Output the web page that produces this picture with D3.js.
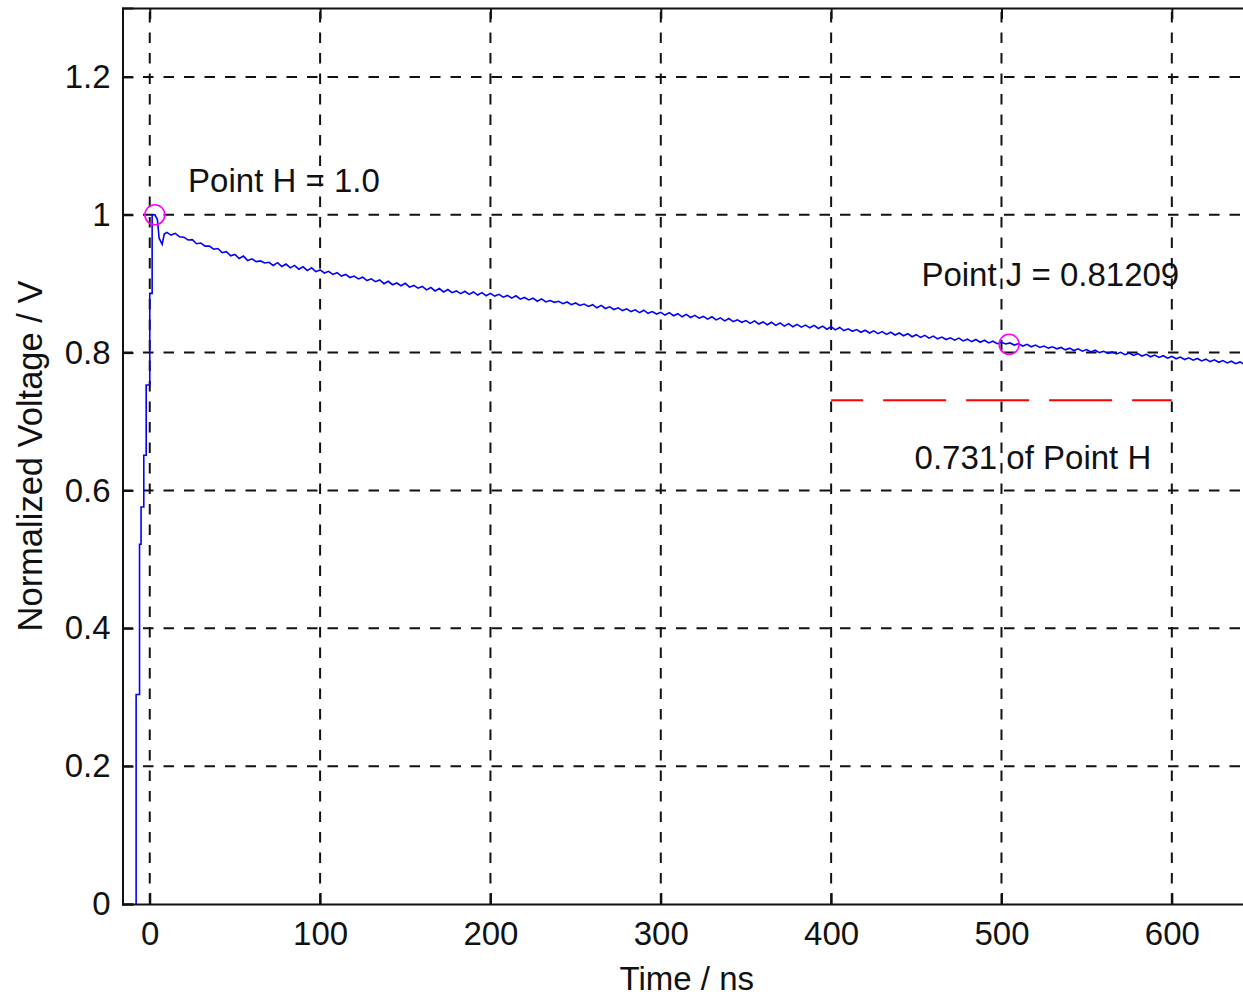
<!DOCTYPE html>
<html>
<head>
<meta charset="utf-8">
<script src="https://cdn.jsdelivr.net/npm/d3@7"></script>
<style>
  html, body { margin: 0; padding: 0; background: #fff; overflow: hidden; }
  svg { display: block; }
  text { font-family: "Liberation Sans", Arial, sans-serif; fill: #111; }
</style>
</head>
<body>
<svg id="chart" width="1243" height="995"></svg>
<script>
// Axis ranges and tick labels
const xDomain = [-16, 650];
const yDomain = [0, 1.3];
const xTicks = [0, 100, 200, 300, 400, 500, 600];
const yTicks = [0, 0.2, 0.4, 0.6, 0.8, 1, 1.2];
const yTickLabels = ["0", "0.2", "0.4", "0.6", "0.8", "1", "1.2"];

// Rising edge of the pulse (time in ns, normalized voltage)
const riseTime = [-8, -8, -6, -6, -5.1, -5.1, -3.5, -3.5, -2.1, -2.1, 0, 0, 1.4, 1.4, 3, 4.5, 5.5, 7.3, 8.5];
const riseVolt = [0, 0.304, 0.304, 0.522, 0.522, 0.576, 0.576, 0.651, 0.651, 0.753, 0.753, 0.886, 0.886, 1.0, 1.0, 0.993, 0.966, 0.957, 0.972];

// Decay tail of the pulse (sampled every 2.5 ns, noisy)
const decayTime = [10, 12.5, 15, 17.5, 20, 22.5, 25, 27.5, 30, 32.5, 35, 37.5, 40, 42.5, 45, 47.5, 50, 52.5, 55, 57.5,
  60, 62.5, 65, 67.5, 70, 72.5, 75, 77.5, 80, 82.5, 85, 87.5, 90, 92.5, 95, 97.5, 100, 102.5, 105, 107.5,
  110, 112.5, 115, 117.5, 120, 122.5, 125, 127.5, 130, 132.5, 135, 137.5, 140, 142.5, 145, 147.5, 150, 152.5, 155, 157.5,
  160, 162.5, 165, 167.5, 170, 172.5, 175, 177.5, 180, 182.5, 185, 187.5, 190, 192.5, 195, 197.5, 200, 202.5, 205, 207.5,
  210, 212.5, 215, 217.5, 220, 222.5, 225, 227.5, 230, 232.5, 235, 237.5, 240, 242.5, 245, 247.5, 250, 252.5, 255, 257.5,
  260, 262.5, 265, 267.5, 270, 272.5, 275, 277.5, 280, 282.5, 285, 287.5, 290, 292.5, 295, 297.5, 300, 302.5, 305, 307.5,
  310, 312.5, 315, 317.5, 320, 322.5, 325, 327.5, 330, 332.5, 335, 337.5, 340, 342.5, 345, 347.5, 350, 352.5, 355, 357.5,
  360, 362.5, 365, 367.5, 370, 372.5, 375, 377.5, 380, 382.5, 385, 387.5, 390, 392.5, 395, 397.5, 400, 402.5, 405, 407.5,
  410, 412.5, 415, 417.5, 420, 422.5, 425, 427.5, 430, 432.5, 435, 437.5, 440, 442.5, 445, 447.5, 450, 452.5, 455, 457.5,
  460, 462.5, 465, 467.5, 470, 472.5, 475, 477.5, 480, 482.5, 485, 487.5, 490, 492.5, 495, 497.5, 500, 502.5, 505, 507.5,
  510, 512.5, 515, 517.5, 520, 522.5, 525, 527.5, 530, 532.5, 535, 537.5, 540, 542.5, 545, 547.5, 550, 552.5, 555, 557.5,
  560, 562.5, 565, 567.5, 570, 572.5, 575, 577.5, 580, 582.5, 585, 587.5, 590, 592.5, 595, 597.5, 600, 602.5, 605, 607.5,
  610, 612.5, 615, 617.5, 620, 622.5, 625, 627.5, 630, 632.5, 635, 637.5, 640, 642.5, 645, 647.5, 650];
const decayVolt = [0.9745, 0.9705, 0.9730, 0.9680, 0.9675, 0.9635, 0.9640, 0.9580, 0.9590, 0.9545, 0.9545, 0.9500, 0.9510, 0.9450, 0.9465, 0.9405, 0.9425, 0.9365, 0.9400, 0.9335,
  0.9360, 0.9320, 0.9330, 0.9300, 0.9310, 0.9265, 0.9305, 0.9250, 0.9285, 0.9230, 0.9265, 0.9210, 0.9245, 0.9190, 0.9230, 0.9175, 0.9200, 0.9155, 0.9180, 0.9135,
  0.9160, 0.9110, 0.9135, 0.9090, 0.9110, 0.9070, 0.9095, 0.9045, 0.9070, 0.9030, 0.9055, 0.9000, 0.9035, 0.8985, 0.9010, 0.8970, 0.9005, 0.8950, 0.8975, 0.8935,
  0.8960, 0.8910, 0.8945, 0.8895, 0.8930, 0.8880, 0.8915, 0.8870, 0.8895, 0.8855, 0.8890, 0.8845, 0.8880, 0.8835, 0.8870, 0.8825, 0.8860, 0.8820, 0.8845, 0.8805,
  0.8830, 0.8790, 0.8825, 0.8775, 0.8800, 0.8765, 0.8790, 0.8745, 0.8780, 0.8735, 0.8755, 0.8730, 0.8745, 0.8710, 0.8735, 0.8695, 0.8720, 0.8685, 0.8705, 0.8670,
  0.8695, 0.8650, 0.8685, 0.8640, 0.8665, 0.8625, 0.8650, 0.8610, 0.8635, 0.8595, 0.8620, 0.8580, 0.8615, 0.8570, 0.8595, 0.8560, 0.8585, 0.8545, 0.8580, 0.8535,
  0.8565, 0.8520, 0.8555, 0.8510, 0.8540, 0.8500, 0.8525, 0.8485, 0.8520, 0.8475, 0.8505, 0.8460, 0.8495, 0.8450, 0.8475, 0.8440, 0.8465, 0.8425, 0.8460, 0.8415,
  0.8445, 0.8405, 0.8440, 0.8395, 0.8430, 0.8385, 0.8420, 0.8375, 0.8410, 0.8370, 0.8400, 0.8360, 0.8395, 0.8350, 0.8385, 0.8340, 0.8375, 0.8330, 0.8365, 0.8320,
  0.8345, 0.8310, 0.8335, 0.8295, 0.8325, 0.8285, 0.8315, 0.8275, 0.8305, 0.8265, 0.8295, 0.8255, 0.8285, 0.8245, 0.8275, 0.8230, 0.8260, 0.8220, 0.8250, 0.8210,
  0.8240, 0.8200, 0.8225, 0.8190, 0.8215, 0.8180, 0.8210, 0.8170, 0.8195, 0.8160, 0.8190, 0.8150, 0.8180, 0.8140, 0.8165, 0.8130, 0.8150, 0.8125, 0.8140, 0.8110,
  0.8130, 0.8095, 0.8120, 0.8085, 0.8110, 0.8075, 0.8095, 0.8065, 0.8085, 0.8055, 0.8075, 0.8040, 0.8065, 0.8030, 0.8055, 0.8020, 0.8045, 0.8010, 0.8035, 0.8000,
  0.8020, 0.7990, 0.8010, 0.7980, 0.8005, 0.7970, 0.7995, 0.7960, 0.7985, 0.7950, 0.7975, 0.7940, 0.7965, 0.7930, 0.7955, 0.7920, 0.7945, 0.7910, 0.7935, 0.7900,
  0.7925, 0.7890, 0.7915, 0.7880, 0.7905, 0.7870, 0.7895, 0.7860, 0.7885, 0.7850, 0.7875, 0.7840, 0.7865, 0.7830, 0.7855, 0.7820, 0.7845];

// Marked points and the reference level
const pointH = { t: 3, v: 1.0, label: "Point H = 1.0", labelT: 22.5, labelV: 1.05 };
const pointJ = { t: 504.5, v: 0.81209, label: "Point J = 0.81209", labelT: 453, labelV: 0.913 };
const refLevel = { t0: 400, t1: 600, v: 0.731, label: "0.731 of Point H", labelT: 449, labelV: 0.648 };

const svg = d3.select("#chart");
const plot = { left: 122.5, top: 8, right: 1257, bottom: 904 };

const x = d3.scaleLinear().domain(xDomain).range([plot.left, plot.right]);
const y = d3.scaleLinear().domain(yDomain).range([plot.bottom, plot.top]);

svg.append("defs").append("clipPath").attr("id", "plotClip")
  .append("rect")
  .attr("x", plot.left).attr("y", plot.top)
  .attr("width", plot.right - plot.left).attr("height", plot.bottom - plot.top);

// Dashed grid
const grid = svg.append("g").attr("stroke", "#111").attr("stroke-width", 2)
  .attr("stroke-dasharray", "10.5 10");
grid.selectAll(".vg").data(xTicks).join("line")
  .attr("x1", d => x(d)).attr("x2", d => x(d))
  .attr("y1", plot.bottom).attr("y2", plot.top);
grid.selectAll(".hg").data(yTicks.filter(d => d > 0)).join("line")
  .attr("x1", plot.left).attr("x2", plot.right)
  .attr("y1", d => y(d)).attr("y2", d => y(d));

// Axes: ticks inward, labels outside
const tickLen = 11;
const xAxis = d3.axisBottom(x).tickValues(xTicks).tickSize(-tickLen).tickPadding(18)
  .tickFormat(d3.format("d"));
const gx = svg.append("g").attr("transform", `translate(0,${plot.bottom})`).call(xAxis);
const xTop = d3.axisTop(x).tickValues(xTicks).tickSize(-tickLen).tickFormat("");
const gxt = svg.append("g").attr("transform", `translate(0,${plot.top})`).call(xTop);
const yAxis = d3.axisLeft(y).tickValues(yTicks).tickSize(-tickLen).tickPadding(12)
  .tickFormat((d, i) => yTickLabels[i]);
const gy = svg.append("g").attr("transform", `translate(${plot.left},0)`).call(yAxis);

[gx, gxt, gy].forEach(g => {
  g.select(".domain").attr("stroke", "#111").attr("stroke-width", 2);
  g.selectAll(".tick line").attr("stroke", "#111").attr("stroke-width", 2);
  g.selectAll(".tick text").attr("font-size", 33).attr("fill", "#111")
    .attr("font-family", "'Liberation Sans', Arial, sans-serif");
});
gx.selectAll(".tick text").attr("dy", "0.71em");

// Axis titles
svg.append("text").attr("x", (plot.left + plot.right) / 2 - 3).attr("y", 978)
  .attr("text-anchor", "middle").attr("dominant-baseline", "central")
  .attr("font-size", 33).text("Time / ns");
svg.append("text")
  .attr("transform", `translate(30,${(plot.top + plot.bottom) / 2}) rotate(-90)`)
  .attr("text-anchor", "middle").attr("dominant-baseline", "central")
  .attr("font-size", 34.5).text("Normalized Voltage / V");

// Signal trace
const series = riseTime.map((t, i) => [t, riseVolt[i]])
  .concat(decayTime.map((t, i) => [t, decayVolt[i]]));
const line = d3.line().x(d => x(d[0])).y(d => y(d[1]));
const marks = svg.append("g").attr("clip-path", "url(#plotClip)");
marks.append("path").datum(series)
  .attr("d", line).attr("fill", "none")
  .attr("stroke", "#0000ff").attr("stroke-width", 1.6).attr("stroke-linejoin", "miter");

// Reference level line
marks.append("line")
  .attr("x1", x(refLevel.t0)).attr("x2", x(refLevel.t1))
  .attr("y1", y(refLevel.v)).attr("y2", y(refLevel.v))
  .attr("stroke", "#ff0000").attr("stroke-width", 2)
  .attr("stroke-dasharray", "63 20").attr("stroke-dashoffset", 31);

// Point markers
marks.selectAll(".pt").data([pointH, pointJ]).join("circle")
  .attr("cx", d => x(d.t)).attr("cy", d => y(d.v)).attr("r", 10)
  .attr("fill", "none").attr("stroke", "#ff00ff").attr("stroke-width", 1.6);

// Annotations
svg.selectAll(".ann").data([pointH, pointJ, refLevel]).join("text")
  .attr("x", d => x(d.labelT)).attr("y", d => y(d.labelV))
  .attr("dominant-baseline", "central").attr("font-size", 33)
  .text(d => d.label);
</script>
</body>
</html>
